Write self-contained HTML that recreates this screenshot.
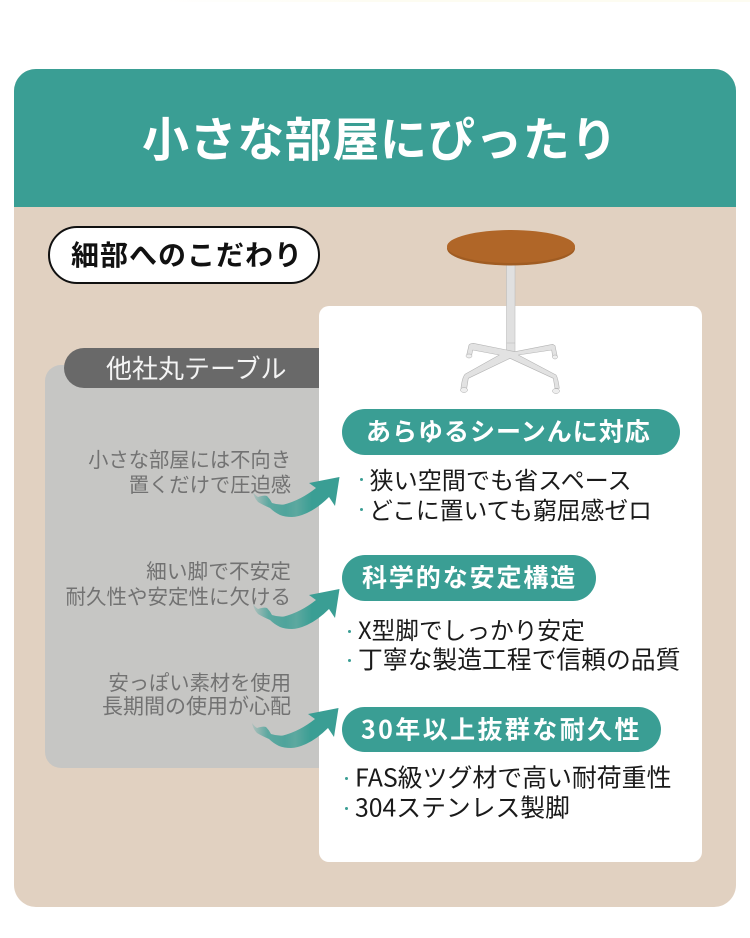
<!DOCTYPE html>
<html lang="ja"><head><meta charset="utf-8">
<style>
html,body{margin:0;padding:0}
body{width:750px;height:938px;position:relative;overflow:hidden;background:#fff;font-family:"Noto Sans CJK JP","Liberation Sans",sans-serif}
.a{position:absolute}
.t{position:absolute;white-space:nowrap;line-height:1;transform:translateY(-50%)}
.g{color:#727272;font-size:20.300px;right:459px;text-align:right}
.h{color:#fff;font-weight:700;font-size:25px;letter-spacing:1.5px}
.b{color:#1a1a1a;font-size:23.500px}
.d{position:absolute;width:3px;height:3px;border-radius:50%;background:#3a9e94}
.p{position:absolute;background:#3a9e94;border-radius:23px}
</style></head><body>
<div class="a" style="left:150px;top:0;width:600px;height:2px;background:linear-gradient(90deg,#fff,#fdfcf1 40%,#fdfcf1)"></div>
<div class="a" style="left:14px;top:69px;width:722px;height:838px;background:#e1d1c1;border-radius:22px"></div>
<div class="a" style="left:14px;top:69px;width:722px;height:138px;background:#3a9e94;border-radius:22px 22px 0 0"></div>
<div class="t" style="left:142px;top:136px;color:#fff;font-weight:700;font-size:47px;letter-spacing:.6px">小さな部屋にぴったり</div>
<div class="a" style="left:48px;top:226px;width:268px;height:54px;background:#fff;border:2px solid #111;border-radius:29px"></div>
<div class="t" style="left:71px;top:253.500px;color:#111;font-weight:700;font-size:28px;letter-spacing:1px">細部へのこだわり</div>
<div class="a" style="left:45px;top:365px;width:290px;height:403px;background:#c6c6c4;border-radius:16px"></div>
<div class="a" style="left:64px;top:348px;width:270px;height:40px;background:#696969;border-radius:20px 0 0 20px"></div>
<div class="t" style="left:106px;top:367.500px;color:#f4f4f4;font-size:26px">他社丸テーブル</div>
<div class="a" style="left:319px;top:306px;width:383px;height:556px;background:#fff;border-radius:10px"></div>
<div class="t g" style="top:457.500px">小さな部屋には不向き</div>
<div class="t g" style="top:482.500px">置くだけで圧迫感</div>
<div class="t g" style="top:569.500px;font-size:20.700px">細い脚で不安定</div>
<div class="t g" style="top:594.500px;font-size:20.500px">耐久性や安定性に欠ける</div>
<div class="t g" style="top:680.500px">安っぽい素材を使用</div>
<div class="t g" style="top:705.500px;font-size:21px">長期間の使用が心配</div>
<svg class="a" style="left:0;top:0" width="750" height="938" viewBox="0 0 750 938">
<defs>
<linearGradient id="s" x1="0" y1="0" x2="1" y2="0"><stop offset="0" stop-color="#3a9e94" stop-opacity=".15"/><stop offset=".18" stop-color="#3a9e94" stop-opacity=".75"/><stop offset=".38" stop-color="#3a9e94" stop-opacity=".85"/><stop offset=".5" stop-color="#4aa399" stop-opacity=".85"/><stop offset=".68" stop-color="#3a9e94"/><stop offset="1" stop-color="#3a9e94"/></linearGradient>
<path id="ar" d="M253 492Q256 496 258 497Q264 495 267 496Q270 499 272 503Q278 505 284 504.500Q301 500 316 488L309 483L339.500 477L335 506L329 497Q318 508 307 513Q298 517 292 517Q285 517 280 515Q274 512 270 508Q263 505 258 502Q254 498 253 492Z"/>
</defs>
<use href="#ar" fill="url(#s)"/>
<use href="#ar" y="112" fill="url(#s)"/>
<use href="#ar" x="-1" y="231" fill="url(#s)"/>
<!-- table -->
<rect x="506.500" y="264" width="8.500" height="88" fill="#e0e0e0" stroke="#bdbdbd" stroke-width=".6"/>
<path d="M506.700 350L473.300 343.300Q470 343.500 469 345L466.700 355L471.700 355L472.700 350L499.300 355L465 374.300Q462 378 461 388.300L466.700 388.300L468.300 378.300L510 358.300L553.300 378.300L555 388.300L559.300 388.300Q558 378 556 375L518.300 355L551.700 350L552.700 356.700L557.300 356.700L555 345.700L552.700 344.300L515 351.700Z" fill="#e2e2e2" stroke="#b4b4b4" stroke-width=".6" stroke-linejoin="round"/>
<line x1="506.500" y1="343" x2="515" y2="343" stroke="#bdbdbd" stroke-width=".6"/>
<ellipse cx="469" cy="356" rx="3" ry="2" fill="#eee" stroke="#aaa" stroke-width=".5"/>
<ellipse cx="555" cy="357" rx="2.500" ry="2" fill="#eee" stroke="#aaa" stroke-width=".5"/>
<ellipse cx="464" cy="390" rx="3.500" ry="2.500" fill="#eee" stroke="#aaa" stroke-width=".5"/>
<ellipse cx="556" cy="391" rx="3.500" ry="2.500" fill="#eee" stroke="#aaa" stroke-width=".5"/>
<ellipse cx="511" cy="248.500" rx="64" ry="17" fill="#a05c22"/>
<ellipse cx="511" cy="246.500" rx="64" ry="16.500" fill="#b06628"/>
</svg>
<div class="p" style="left:342px;top:409px;width:338px;height:46px"></div>
<div class="t h" style="left:366px;top:431px;letter-spacing:1px">あらゆるシーンんに対応</div>
<div class="p" style="left:342px;top:555px;width:254px;height:46px"></div>
<div class="t h" style="left:362px;top:576.500px;letter-spacing:1.900px">科学的な安定構造</div>
<div class="p" style="left:342px;top:707px;width:319px;height:45px"></div>
<div class="t h" style="left:361px;top:728.500px;letter-spacing:2.400px">30年以上抜群な耐久性</div>
<i class="d" style="left:360px;top:478px"></i><div class="t b" style="left:369.500px;top:478.500px;font-size:24.100px">狭い空間でも省スペース</div>
<i class="d" style="left:360px;top:508px"></i><div class="t b" style="left:369px;top:508.500px;font-size:23.800px">どこに置いても窮屈感ゼロ</div>
<i class="d" style="left:348px;top:630px"></i><div class="t b" style="left:358px;top:629.500px;font-size:23.700px">X型脚でしっかり安定</div>
<i class="d" style="left:348px;top:659px"></i><div class="t b" style="left:358px;top:658.500px;font-size:24.800px">丁寧な製造工程で信頼の品質</div>
<i class="d" style="left:345px;top:777px"></i><div class="t b" style="left:355px;top:776.500px;font-size:24.900px">FAS級ツグ材で高い耐荷重性</div>
<i class="d" style="left:345px;top:807px"></i><div class="t b" style="left:355px;top:806.500px;font-size:24.800px">304ステンレス製脚</div>
</body></html>
